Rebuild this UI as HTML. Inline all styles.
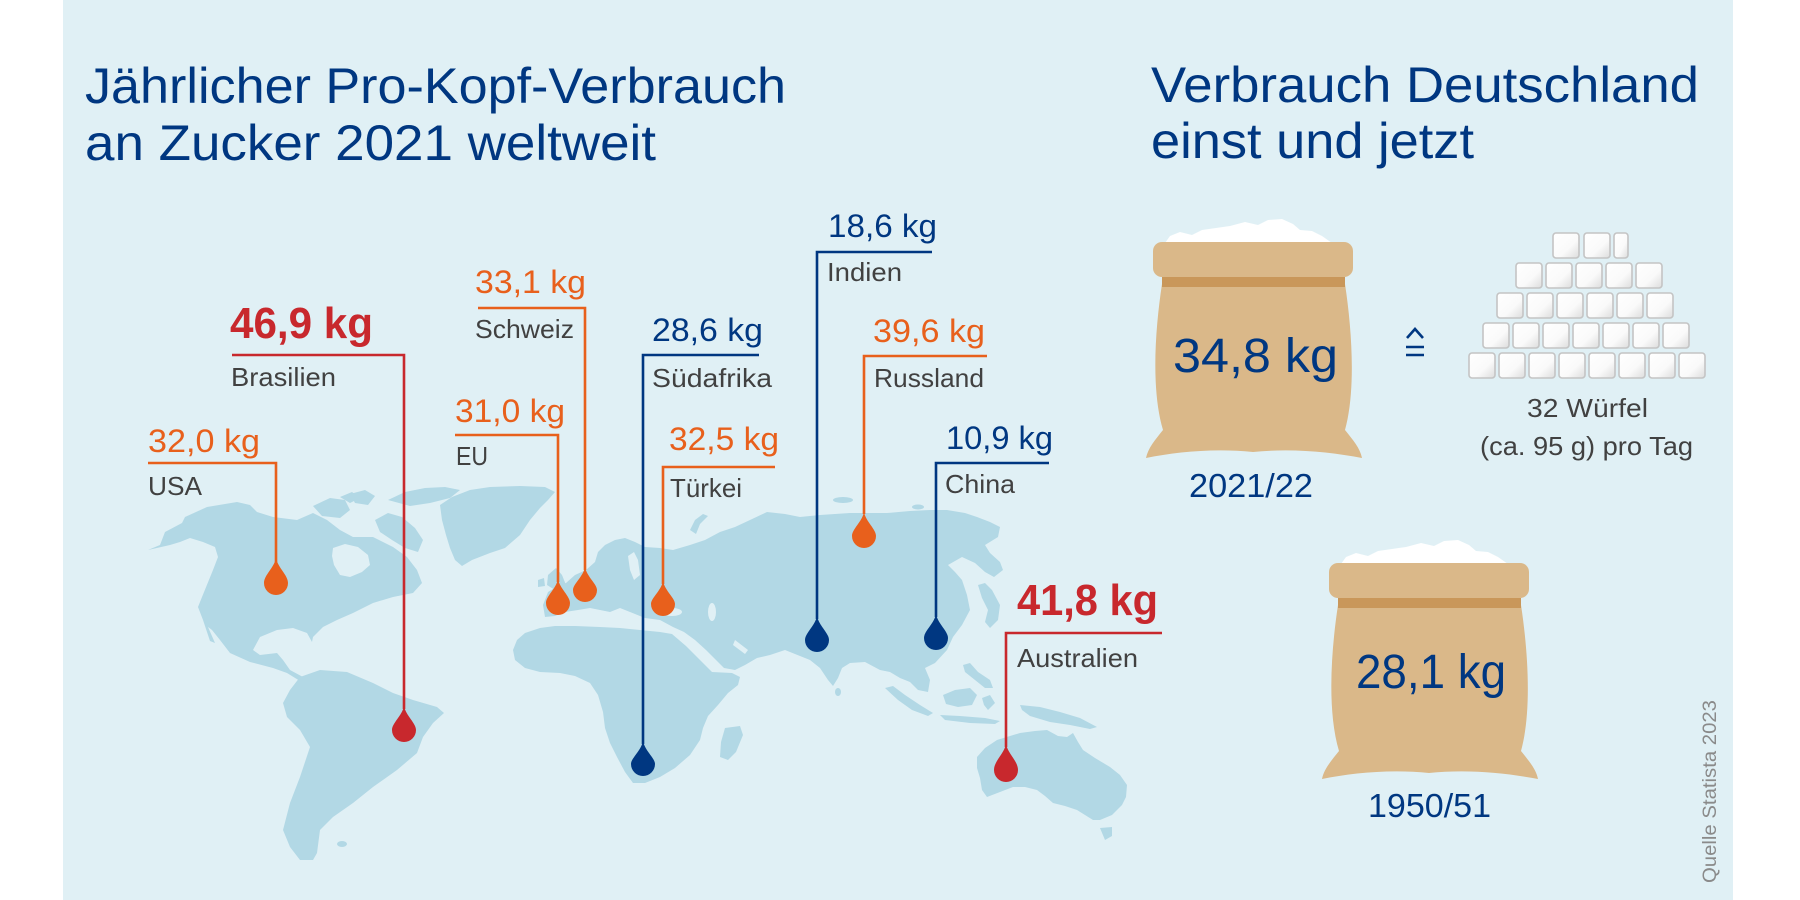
<!DOCTYPE html>
<html>
<head>
<meta charset="utf-8">
<style>
html,body{margin:0;padding:0;background:#ffffff;}
svg{display:block;}
text{font-family:"Liberation Sans",Arial,sans-serif;}
</style>
</head>
<body>
<svg width="1800" height="900" viewBox="0 0 1800 900" xmlns="http://www.w3.org/2000/svg">
<defs>
  <linearGradient id="cube" x1="0" y1="0" x2="1" y2="1">
    <stop offset="0" stop-color="#ffffff"/>
    <stop offset="0.6" stop-color="#fafafa"/>
    <stop offset="1" stop-color="#dcdcdc"/>
  </linearGradient>
</defs>

<!-- panel -->
<rect x="63" y="0" width="1670" height="900" fill="#e0f0f5"/>

<!-- ================= MAP ================= -->
<g fill="#b2d8e5">
  <!-- North America -->
  <path d="M148,550 L160,545 L165,532 L182,523 L185,517 L207,507 L237,502 L250,505 L257,512 L273,517 L297,520 L313,513 L327,520 L340,530 L353,537 L373,537 L393,547 L407,557 L417,570 L422,583 L413,593 L393,597 L373,603 L353,613 L337,620 L323,627 L313,637 L312,642 L307,633 L293,628 L277,630 L260,637 L253,650 L260,655 L277,653 L283,660 L290,670 L303,677 L300,681 L287,673 L273,668 L250,662 L230,653 L220,640 L212,630 L208,627 L215,643 L210,641 L203,620 L198,607 L202,597 L213,570 L218,557 L215,547 L203,542 L190,538 L180,542 L170,545 Z"/>
  <!-- Arctic islands -->
  <path d="M375,520 L388,513 L402,517 L415,528 L423,540 L418,552 L405,548 L392,540 L380,532 Z"/>
  <path d="M313,506 L330,498 L345,500 L350,510 L340,518 L322,516 Z"/>
  <path d="M350,494 L365,490 L375,496 L368,505 L355,503 Z"/>
  <path d="M388,500 L405,492 L425,488 L445,487 L460,490 L450,498 L430,503 L410,506 Z"/>
  <path d="M340,497 L352,492 L360,498 L350,503 Z"/>
  <!-- Greenland -->
  <path d="M440,505 L452,497 L470,490 L490,487 L520,486 L545,487 L555,492 L548,500 L540,508 L530,520 L520,535 L505,548 L490,553 L472,560 L462,566 L455,560 L450,548 L446,535 L442,520 Z"/>
  <!-- South America -->
  <path d="M300,677 L320,670 L347,672 L373,683 L393,693 L413,700 L437,707 L444,713 L433,723 L423,737 L417,753 L397,770 L373,787 L353,803 L333,817 L320,830 L317,853 L313,860 L300,860 L290,847 L283,830 L290,803 L300,777 L310,747 L300,730 L287,717 L283,703 L290,690 Z"/>
  <ellipse cx="342" cy="844" rx="5" ry="3"/>
  <!-- Africa -->
  <path d="M513,650 L517,640 L525,633 L540,628 L555,626 L575,626 L600,627 L620,628 L640,630 L660,632 L672,634 L686,646 L700,660 L712,672 L732,673 L740,677 L738,685 L728,693 L718,705 L708,716 L703,728 L700,740 L690,755 L675,768 L660,777 L645,783 L633,783 L625,772 L617,757 L610,743 L605,728 L603,712 L598,695 L590,683 L575,676 L560,673 L540,672 L525,668 L515,660 Z"/>
  <!-- Madagascar -->
  <path d="M725,728 L740,726 L743,735 L736,752 L728,760 L720,757 L721,742 Z"/>
  <!-- UK / Ireland -->
  <path d="M548,575 L556,568 L562,575 L566,585 L555,590 L547,585 Z"/>
  <path d="M538,580 L544,578 L545,586 L538,587 Z"/>
  <!-- Eurasia -->
  <path d="M543,605 L548,592 L556,587 L566,583 L575,575 L586,570 L595,562 L598,552 L605,545 L615,540 L625,538 L635,542 L645,547 L660,548 L673,550 L690,545 L705,540 L720,532 L735,527 L750,520 L767,512 L785,514 L800,517 L820,515 L835,514 L850,513 L867,513 L887,513 L910,511 L930,510 L947,510 L965,513 L977,517 L990,522 L1000,527 L998,537 L985,545 L990,553 L1000,562 L1003,570 L994,577 L985,572 L975,563 L962,557 L948,565 L955,572 L962,580 L967,595 L970,610 L962,625 L953,637 L947,650 L935,663 L925,668 L930,680 L928,692 L918,690 L910,682 L900,678 L890,672 L880,670 L865,662 L850,663 L842,668 L838,678 L833,686 L828,680 L820,668 L810,660 L800,656 L785,650 L770,655 L757,658 L745,665 L735,670 L724,668 L716,660 L706,650 L695,640 L684,632 L673,627 L660,620 L645,618 L630,612 L620,608 L610,612 L600,610 L590,608 L578,610 L565,612 L555,616 L545,617 Z"/>
  <!-- Baltic sea cut handled below; Novaya Zemlya / northern islands -->
  <path d="M690,530 L695,520 L703,514 L708,516 L700,524 L696,534 Z"/>
  <ellipse cx="843" cy="500" rx="10" ry="3"/>
  <ellipse cx="918" cy="507" rx="6" ry="2.5"/>
  <!-- Sri Lanka -->
  <ellipse cx="838" cy="692" rx="3" ry="4"/>
  <!-- Japan -->
  <path d="M978,585 L985,583 L992,590 L1000,605 L998,620 L990,628 L985,622 L988,610 L982,598 Z"/>
  <!-- Philippines -->
  <path d="M963,665 L970,663 L978,672 L990,680 L993,688 L985,688 L975,680 L965,672 Z"/>
  <!-- Sumatra -->
  <path d="M885,688 L893,686 L905,695 L920,705 L933,713 L928,716 L912,710 L898,700 Z"/>
  <!-- Borneo -->
  <path d="M943,695 L955,690 L970,688 L977,695 L972,705 L958,707 L946,704 Z"/>
  <!-- Java -->
  <path d="M940,715 L960,716 L985,718 L1000,721 L995,724 L970,723 L945,720 Z"/>
  <!-- Sulawesi -->
  <path d="M982,698 L990,695 L995,703 L988,710 L984,705 Z"/>
  <!-- New Guinea -->
  <path d="M1020,705 L1040,707 L1060,712 L1080,718 L1097,727 L1090,729 L1070,725 L1050,722 L1030,716 L1022,710 Z"/>
  <!-- Australia -->
  <path d="M977,757 L985,748 L997,740 L1010,736 L1020,733 L1035,731 L1047,730 L1058,736 L1067,737 L1073,733 L1078,742 L1083,750 L1095,758 L1110,767 L1120,775 L1127,785 L1126,797 L1122,805 L1112,815 L1100,820 L1093,820 L1085,815 L1077,810 L1065,806 L1053,803 L1045,796 L1037,790 L1025,787 L1013,787 L1000,792 L987,797 L982,790 L980,778 L977,768 Z"/>
  <!-- Tasmania -->
  <path d="M1100,828 L1112,827 L1112,836 L1105,840 Z"/>
</g>
<!-- water cut-outs -->
<g fill="#e0f0f5">
  <!-- Hudson Bay -->
  <path d="M333,548 L345,544 L358,547 L368,555 L370,565 L362,572 L350,577 L340,575 L334,565 L332,556 Z"/>
  <!-- Baltic -->
  <path d="M628,556 L634,552 L638,560 L640,575 L634,580 L630,570 Z"/>
  <!-- Black sea -->
  <ellipse cx="672" cy="612" rx="10" ry="4"/>
  <!-- Caspian -->
  <ellipse cx="712" cy="612" rx="4" ry="9"/>
  <!-- Persian gulf -->
  <path d="M735,640 L748,650 L745,654 L733,645 Z"/>
</g>

<!-- ================= TITLES ================= -->
<g fill="#003781">
  <text x="85" y="103" font-size="50" textLength="701" lengthAdjust="spacingAndGlyphs">Jährlicher Pro-Kopf-Verbrauch</text>
  <text x="85" y="160" font-size="50" textLength="571" lengthAdjust="spacingAndGlyphs">an Zucker 2021 weltweit</text>
  <text x="1151" y="102" font-size="50" textLength="548" lengthAdjust="spacingAndGlyphs">Verbrauch Deutschland</text>
  <text x="1151" y="158" font-size="50" textLength="323" lengthAdjust="spacingAndGlyphs">einst und jetzt</text>
</g>

<!-- ================= CALLOUTS ================= -->
<g fill="none" stroke-width="2.6" stroke-linejoin="miter">
  <!-- USA -->
  <polyline points="148,463 276,463 276,562" stroke="#e8601c"/>
  <!-- Brasilien -->
  <polyline points="232,355 404,355 404,709" stroke="#c8282d"/>
  <!-- EU -->
  <polyline points="455,435 558,435 558,582" stroke="#e8601c"/>
  <!-- Schweiz -->
  <polyline points="478,308 585,308 585,570" stroke="#e8601c"/>
  <!-- Südafrika -->
  <polyline points="759,355 643,355 643,744" stroke="#003781"/>
  <!-- Türkei -->
  <polyline points="775,467 663,467 663,584" stroke="#e8601c"/>
  <!-- Indien -->
  <polyline points="932,252 817,252 817,619" stroke="#003781"/>
  <!-- Russland -->
  <polyline points="987,356 864,356 864,514" stroke="#e8601c"/>
  <!-- China -->
  <polyline points="1049,463 936,463 936,617" stroke="#003781"/>
  <!-- Australien -->
  <polyline points="1162,633 1006,633 1006,747" stroke="#c8282d"/>
</g>

<!-- drops -->
<g>
  <path fill="#e8601c" d="M276,558 C278,568 288,575 288,583 A12,12 0 0 1 264,583 C264,575 274,568 276,558 Z"/>
  <path fill="#c8282d" d="M404,706 C406,716 416,723 416,730 A12,12 0 0 1 392,730 C392,723 402,716 404,706 Z"/>
  <path fill="#e8601c" d="M558,579 C560,589 570,596 570,603 A12,12 0 0 1 546,603 C546,596 556,589 558,579 Z"/>
  <path fill="#e8601c" d="M585,567 C587,577 597,584 597,590 A12,12 0 0 1 573,590 C573,584 583,577 585,567 Z"/>
  <path fill="#003781" d="M643,741 C645,751 655,758 655,764 A12,12 0 0 1 631,764 C631,758 641,751 643,741 Z"/>
  <path fill="#e8601c" d="M663,581 C665,591 675,598 675,604 A12,12 0 0 1 651,604 C651,598 661,591 663,581 Z"/>
  <path fill="#003781" d="M817,616 C819,626 829,633 829,640 A12,12 0 0 1 805,640 C805,633 815,626 817,616 Z"/>
  <path fill="#e8601c" d="M864,512 C866,522 876,529 876,536 A12,12 0 0 1 852,536 C852,529 862,522 864,512 Z"/>
  <path fill="#003781" d="M936,614 C938,624 948,631 948,638 A12,12 0 0 1 924,638 C924,631 934,624 936,614 Z"/>
  <path fill="#c8282d" d="M1006,744 C1008,754 1018,761 1018,770 A12,12 0 0 1 994,770 C994,761 1004,754 1006,744 Z"/>
</g>

<!-- values -->
<g font-size="32">
  <text x="148" y="452" fill="#e8601c" textLength="112" lengthAdjust="spacingAndGlyphs">32,0 kg</text>
  <text x="455" y="422" fill="#e8601c" textLength="110" lengthAdjust="spacingAndGlyphs">31,0 kg</text>
  <text x="475" y="293" fill="#e8601c" textLength="111" lengthAdjust="spacingAndGlyphs">33,1 kg</text>
  <text x="652" y="341" fill="#003781" textLength="111" lengthAdjust="spacingAndGlyphs">28,6 kg</text>
  <text x="669" y="450" fill="#e8601c" textLength="110" lengthAdjust="spacingAndGlyphs">32,5 kg</text>
  <text x="828" y="237" fill="#003781" textLength="109" lengthAdjust="spacingAndGlyphs">18,6 kg</text>
  <text x="873" y="342" fill="#e8601c" textLength="112" lengthAdjust="spacingAndGlyphs">39,6 kg</text>
  <text x="946" y="449" fill="#003781" textLength="107" lengthAdjust="spacingAndGlyphs">10,9 kg</text>
</g>
<g font-size="44" font-weight="bold" fill="#c8282d">
  <text x="230" y="338" textLength="143" lengthAdjust="spacingAndGlyphs">46,9 kg</text>
  <text x="1017" y="615" textLength="141" lengthAdjust="spacingAndGlyphs">41,8 kg</text>
</g>

<!-- country labels -->
<g font-size="26" fill="#414141">
  <text x="148" y="495" textLength="54" lengthAdjust="spacingAndGlyphs">USA</text>
  <text x="231" y="386" textLength="105" lengthAdjust="spacingAndGlyphs">Brasilien</text>
  <text x="456" y="465" textLength="32" lengthAdjust="spacingAndGlyphs">EU</text>
  <text x="475" y="338" textLength="99" lengthAdjust="spacingAndGlyphs">Schweiz</text>
  <text x="652" y="387" textLength="120" lengthAdjust="spacingAndGlyphs">Südafrika</text>
  <text x="670" y="497" textLength="72" lengthAdjust="spacingAndGlyphs">Türkei</text>
  <text x="827" y="281" textLength="75" lengthAdjust="spacingAndGlyphs">Indien</text>
  <text x="874" y="387" textLength="110" lengthAdjust="spacingAndGlyphs">Russland</text>
  <text x="945" y="493" textLength="70" lengthAdjust="spacingAndGlyphs">China</text>
  <text x="1017" y="667" textLength="121" lengthAdjust="spacingAndGlyphs">Australien</text>
</g>

<!-- ================= SACKS ================= -->
<g id="sack1">
  <path fill="#ffffff" d="M1165,243 L1170,236 L1180,232 L1192,235 L1202,230 L1216,228 L1230,226 L1245,222 L1258,225 L1268,220 L1282,219 L1293,224 L1300,230 L1312,231 L1322,236 L1332,243 Z"/>
  <path fill="#dab889" d="M1162,284 L1345,284 C1352,330 1356,390 1345,430 C1353,440 1360,448 1362,458 C1330,452 1292,448 1253,452 C1214,448 1176,452 1146,458 C1148,448 1155,440 1163,430 C1151,390 1155,330 1162,284 Z"/>
  <rect x="1153" y="242" width="200" height="35" rx="9" fill="#dab889"/>
  <rect x="1162" y="277" width="183" height="10" fill="#c9975a"/>
</g>
<g transform="translate(176,321)">
  <path fill="#ffffff" d="M1165,243 L1170,236 L1180,232 L1192,235 L1202,230 L1216,228 L1230,226 L1245,222 L1258,225 L1268,220 L1282,219 L1293,224 L1300,230 L1312,231 L1322,236 L1332,243 Z"/>
  <path fill="#dab889" d="M1162,284 L1345,284 C1352,330 1356,390 1345,430 C1353,440 1360,448 1362,458 C1330,452 1292,448 1253,452 C1214,448 1176,452 1146,458 C1148,448 1155,440 1163,430 C1151,390 1155,330 1162,284 Z"/>
  <rect x="1153" y="242" width="200" height="35" rx="9" fill="#dab889"/>
  <rect x="1162" y="277" width="183" height="10" fill="#c9975a"/>
</g>

<g fill="#003781">
  <text x="1173" y="372" font-size="48" textLength="165" lengthAdjust="spacingAndGlyphs">34,8 kg</text>
  <text x="1356" y="688" font-size="48" textLength="150" lengthAdjust="spacingAndGlyphs">28,1 kg</text>
  <text x="1189" y="497" font-size="33" textLength="124" lengthAdjust="spacingAndGlyphs">2021/22</text>
  <text x="1368" y="817" font-size="33" textLength="123" lengthAdjust="spacingAndGlyphs">1950/51</text>
</g>

<!-- corresponds symbol -->
<g stroke="#003781" stroke-width="2.6" fill="none">
  <polyline points="1407,338 1415,329 1423,338"/>
  <line x1="1406" y1="347" x2="1424" y2="347"/>
  <line x1="1406" y1="355" x2="1424" y2="355"/>
</g>

<!-- sugar cubes -->
<g fill="url(#cube)" stroke="#c4c4c4" stroke-width="1.6">
  <rect x="1553" y="233" width="26" height="25" rx="3"/>
  <rect x="1584" y="233" width="26" height="25" rx="3"/>
  <rect x="1614" y="233" width="14" height="25" rx="3"/>

  <rect x="1516" y="263" width="26" height="25" rx="3"/>
  <rect x="1546" y="263" width="26" height="25" rx="3"/>
  <rect x="1576" y="263" width="26" height="25" rx="3"/>
  <rect x="1606" y="263" width="26" height="25" rx="3"/>
  <rect x="1636" y="263" width="26" height="25" rx="3"/>

  <rect x="1497" y="293" width="26" height="25" rx="3"/>
  <rect x="1527" y="293" width="26" height="25" rx="3"/>
  <rect x="1557" y="293" width="26" height="25" rx="3"/>
  <rect x="1587" y="293" width="26" height="25" rx="3"/>
  <rect x="1617" y="293" width="26" height="25" rx="3"/>
  <rect x="1647" y="293" width="26" height="25" rx="3"/>

  <rect x="1483" y="323" width="26" height="25" rx="3"/>
  <rect x="1513" y="323" width="26" height="25" rx="3"/>
  <rect x="1543" y="323" width="26" height="25" rx="3"/>
  <rect x="1573" y="323" width="26" height="25" rx="3"/>
  <rect x="1603" y="323" width="26" height="25" rx="3"/>
  <rect x="1633" y="323" width="26" height="25" rx="3"/>
  <rect x="1663" y="323" width="26" height="25" rx="3"/>

  <rect x="1469" y="353" width="26" height="25" rx="3"/>
  <rect x="1499" y="353" width="26" height="25" rx="3"/>
  <rect x="1529" y="353" width="26" height="25" rx="3"/>
  <rect x="1559" y="353" width="26" height="25" rx="3"/>
  <rect x="1589" y="353" width="26" height="25" rx="3"/>
  <rect x="1619" y="353" width="26" height="25" rx="3"/>
  <rect x="1649" y="353" width="26" height="25" rx="3"/>
  <rect x="1679" y="353" width="26" height="25" rx="3"/>
</g>

<g fill="#414141" font-size="26">
  <text x="1527" y="417" textLength="121" lengthAdjust="spacingAndGlyphs">32 Würfel</text>
  <text x="1480" y="455" textLength="213" lengthAdjust="spacingAndGlyphs">(ca. 95 g) pro Tag</text>
</g>

<!-- source -->
<text transform="translate(1716,883) rotate(-90)" x="0" y="0" font-size="19" fill="#8a8a8a" textLength="183" lengthAdjust="spacingAndGlyphs">Quelle Statista 2023</text>
</svg>
</body>
</html>
